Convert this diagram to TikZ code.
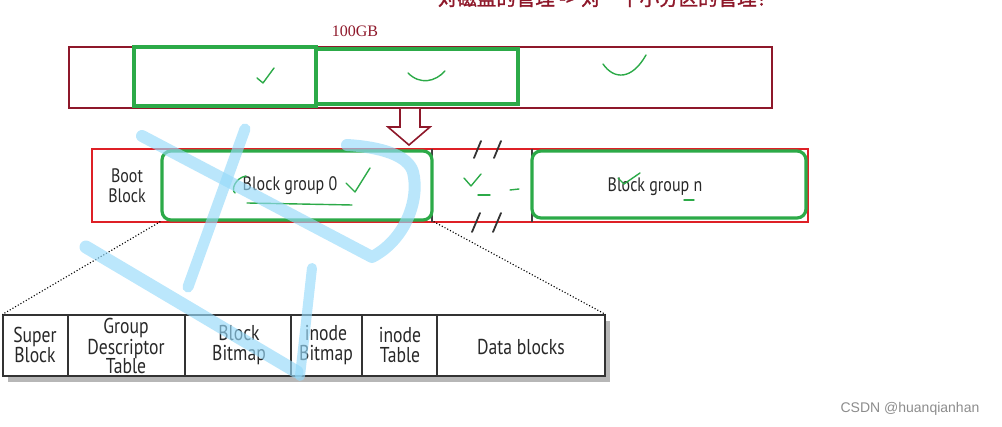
\documentclass[tikz,border=0pt]{standalone}
\usepackage{fontspec}
\setmainfont{PT Sans}[FakeStretch=0.82]
\newfontfamily\cjkfont{Noto Sans CJK SC}[FakeBold=1.5]
\newfontfamily\seriffont{Liberation Serif}
\newfontfamily\arialfont{Liberation Sans}
\usetikzlibrary{shadows}
\definecolor{dred}{RGB}{142,24,42}
\definecolor{bred}{RGB}{222,32,38}
\definecolor{hgreen}{RGB}{44,170,72}
\definecolor{wmblue}{RGB}{150,218,250}
\definecolor{txtgray}{RGB}{40,40,40}
\begin{document}
\begin{tikzpicture}[x=1pt,y=-1pt,
  diskbox/.style={draw=dred,line width=2pt,minimum width=#1,inner sep=0pt},
  partbox/.style={draw=hgreen,line width=3.2pt,inner sep=0pt},
  label18/.style={text=txtgray,font=\fontsize{19.5}{20}\selectfont,align=center,inner sep=0pt},
  label17/.style={text=txtgray,font=\fontsize{21.5}{19.5}\selectfont,align=center,inner sep=0pt},
  hand/.style={draw=hgreen,line width=1.4pt,line cap=round,line join=round},
  wm/.style={draw=wmblue,opacity=0.65,line cap=round,line join=round},
  tick/.style={draw=black!80,line width=1.8pt,line cap=round}]
\useasboundingbox (0,0) rectangle (1002,427);

% title (top cut off, as in the reference)
\node[text=dred,font=\cjkfont\fontsize{19.5}{21}\selectfont,inner sep=0pt] (title) at (607,-2) {对磁盘的管理 -> 对一个小分区的管理！};
\node[text=dred,font=\seriffont\fontsize{16}{18}\selectfont,inner sep=0pt] (size) at (355,31) {100GB};

% disk
\node[diskbox=703pt,minimum height=61pt] (disk) at (420.5,77.5) {};
\node[partbox,minimum width=182pt,minimum height=59pt] (p1) at (225,76.5) {};
\node[partbox,minimum width=202pt,minimum height=55pt] (p2) at (417,76.5) {};
\draw[hand] (257,78) -- (263,83) -- (274,68);
\draw[hand] (408,73) .. controls (420,85) and (435,82) .. (445,71);
\draw[hand] (603,64) .. controls (614,80) and (632,80) .. (646,55);

% arrow
\draw[dred,line width=1.6pt,fill=white,line join=miter]
  (400,109) -- (400,127) -- (388,127) -- (409,145) -- (430,127) -- (420,127) -- (420,109);

% partition row
\node[draw=black!75,line width=1pt,minimum width=716pt,minimum height=73pt,inner sep=0pt] (rowshadow) at (450,186.5) {};
\node[draw=bred,line width=2pt,minimum width=716pt,minimum height=73pt,inner sep=0pt] (row) at (450,185.5) {};
\node[label18] (boot) at (127,186) {Boot\\Block};
\draw[black!75,line width=1.5pt] (432,149) -- (432,222);
\draw[black!75,line width=1.5pt] (532,149) -- (532,222);
\node[partbox,rounded corners=9pt,minimum width=270pt,minimum height=69pt,fill=white] (g0) at (297,185.5) {};
\node[label18] (g0t) at (290,186) {Block group 0};
\node[partbox,rounded corners=9pt,minimum width=274pt,minimum height=67pt,fill=white] (gn) at (669,184.5) {};
\node[label18] (gnt) at (655,187) {Block group n};

\draw[tick] (474,158) -- (481,141);
\draw[tick] (494,158) -- (501,141);
\draw[tick] (472,232) -- (480,213);
\draw[tick] (493,232) -- (501,213);

\draw[hand] (246,176) .. controls (235,178) and (231,190) .. (235,193);
\draw[hand] (346,183) -- (355,192) -- (370,168);
\draw[hand] (247,203) -- (352,205);
\draw[hand] (464,178) -- (471,186) -- (481,174);
\draw[hand] (478,195) -- (490,195);
\draw[hand] (510,190) -- (519,189);
\draw[hand] (618,178) -- (624,184) -- (640,173);
\draw[hand] (684,200) -- (694,200);

% block group detail
\node[draw=black!80,line width=1.2pt,fill=white,minimum width=602pt,minimum height=61pt,inner sep=0pt,
  drop shadow={shadow xshift=5pt,shadow yshift=-6pt,opacity=0.4,fill=black!70}] (tbl) at (304,345.5) {};
\draw[dotted,line width=1.1pt] (g0.south west) -- (tbl.north west);
\draw[dotted,line width=1.1pt] (g0.south east) -- (tbl.north east);
\foreach \xx in {68,185,291,362,437} \draw[black!80,line width=1.2pt] (\xx,315) -- (\xx,376);
\node[label17] (sb) at (35,345) {Super\\Block};
\node[label17] (gdt) at (126,346) {Group\\Descriptor\\Table};
\node[label17] (bb) at (239,345) {Block\\Bitmap};
\node[label17] (ib) at (326,345) {inode\\Bitmap};
\node[label17] (it) at (400,345) {inode\\Table};
\node[label17] (db) at (521,347) {Data blocks};

% watermark strokes
\draw[wm,line width=12pt] (142,136) -- (372,257) .. controls (405,240) and (420,200) .. (413,172) .. controls (408,155) and (380,147) .. (347,145);
\draw[wm,line width=11pt] (245,129) -- (188,287);
\draw[wm,line width=13pt] (86,247) -- (297,372);
\draw[wm,line width=10pt] (312,268) -- (300,376);

\node[text=black!45,font=\arialfont\fontsize{14}{16}\selectfont,inner sep=0pt] (csdn) at (910,409) {CSDN @huanqianhan};
\end{tikzpicture}
\end{document}
